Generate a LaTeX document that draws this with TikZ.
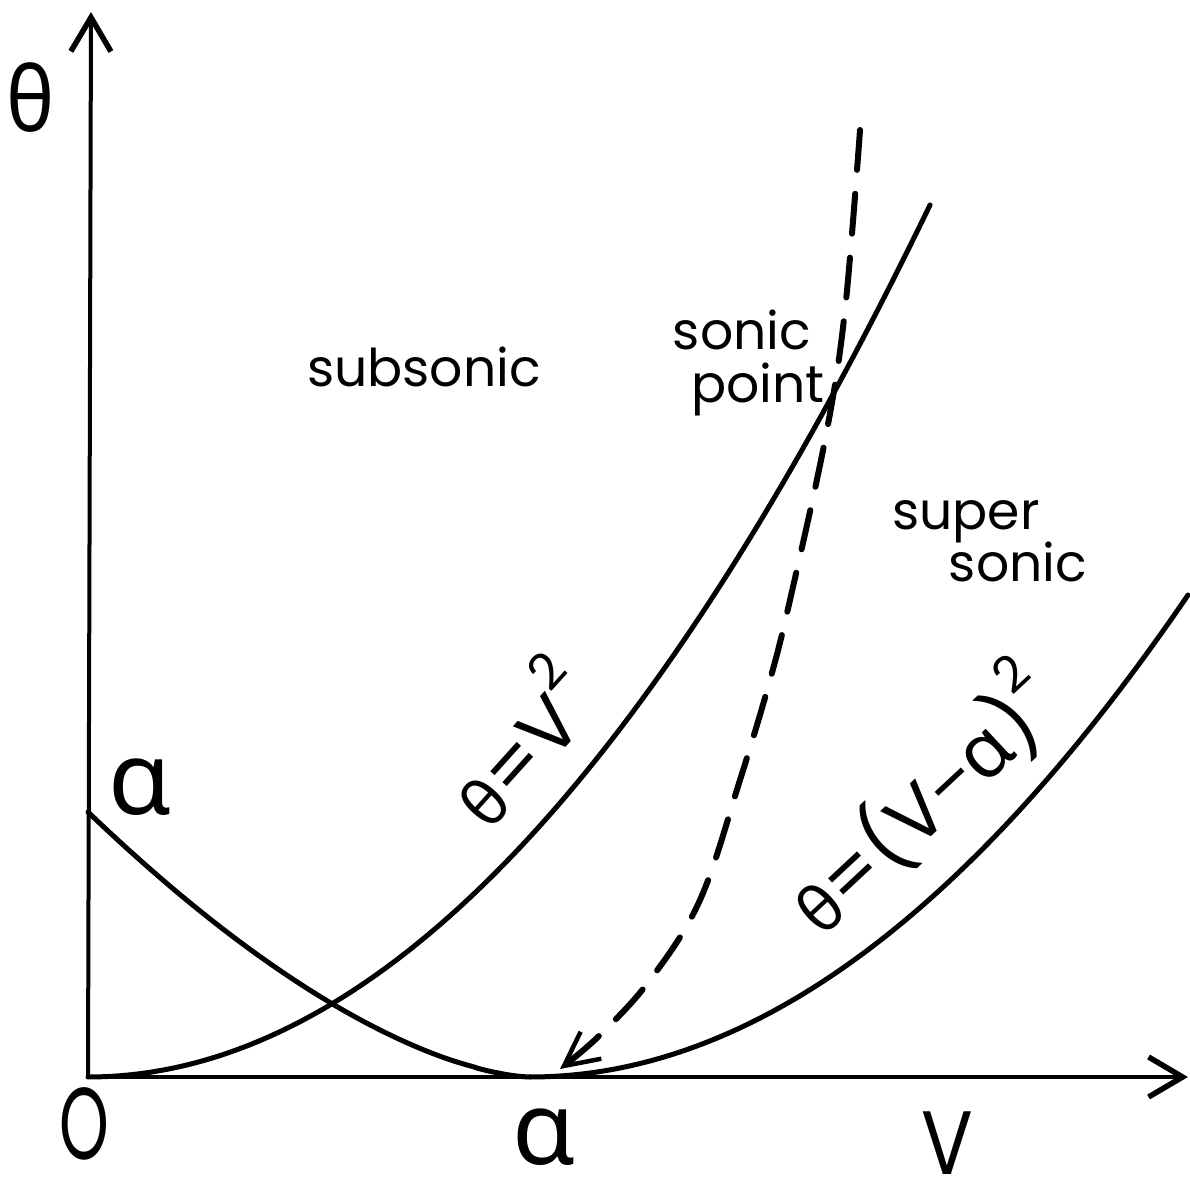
\documentclass[tikz,border=0pt]{standalone}
\usepackage{fontspec}
\usepackage{graphicx}
\setmainfont{Poppins}
\newfontfamily\grk{Noto Sans}
\usetikzlibrary{arrows.meta}
\newcommand{\sq}{\raisebox{0.62em}{\fontsize{50}{50}\selectfont 2}}
\tikzset{
  axarrow/.style={-{Straight Barb[length=34pt,width=40pt,line width=5.5pt]}},
  curve/.style={line width=5pt},
  word/.style={font=\fontsize{52}{56}\selectfont,inner sep=0pt,anchor=base},
  formula/.style={font=\fontsize{76}{80}\selectfont,inner sep=0pt},
  axlab/.style={font=\fontsize{102}{108}\selectfont,inner sep=0pt},
}

\begin{document}
\begin{tikzpicture}[x=1pt,y=1pt,line cap=round,line join=round]
\useasboundingbox (-88,-100) rectangle (1102,1077);
\coordinate (O) at (0,0);
\coordinate (alpha) at (442,0);
\coordinate (vend) at (1100,0);
\coordinate (tend) at (3,1065);

% axes
\draw[axarrow,line width=4pt] (O) -- (tend);
\draw[axarrow,line width=4pt] (O) -- (vend);

% the two parabolas and the left branch
\draw[curve] plot[domain=0:842,samples=80] (\x,{872*(\x/842)^2});
\draw[curve] plot[domain=442:1100,samples=80] (\x,{482*((\x-442)/658)^2});
\draw[curve] plot[domain=0:440,samples=80] (\x,{265*((442-\x)/442)^1.6}) -- (alpha);

% path through the sonic point
\draw[line width=6pt,dash pattern=on 40pt off 24pt,
  -{Straight Barb[length=34pt,width=34pt,line width=4.5pt]}]
  plot[smooth,tension=0.6] coordinates {(772,947) (757,767) (738,642) (702,477)
    (682,397) (652,297) (612,177) (562,97) (512,42) (472,8)};

% labels
\node[axlab,font=\fontsize{90}{96}\selectfont] (thetalab) at (-57,979) {\scalebox{0.9}[1]{\grk θ}};
\node[axlab] (olab) at (-4,-47) {\scalebox{0.62}[1]{O}};
\node[axlab,font=\fontsize{90}{96}\selectfont] (vlab) at (859,-66) {\scalebox{0.85}[1]{V}};
\node[axlab] (alab) at (456,-60) {\grk α};
\node[axlab] (alab2) at (52,290) {\grk α};

\node[word] (sub) at (336,690) {subsonic};
\node[word] (sonic) at (654,727) {sonic};
\node[word] (point) at (670,674) {point};
\node[word] (super) at (878,547) {super};
\node[word] (sonic2) at (930,495) {sonic};

\node[formula,rotate=48] (eqa) at (428,337) {{\grk\fontsize{64}{70}\selectfont θ}=V\sq};
\node[formula,rotate=43] (eqb) at (832,278) {{\grk\fontsize{64}{70}\selectfont θ}=(V{\grk −}{\grk α})\sq};
\end{tikzpicture}
\end{document}
